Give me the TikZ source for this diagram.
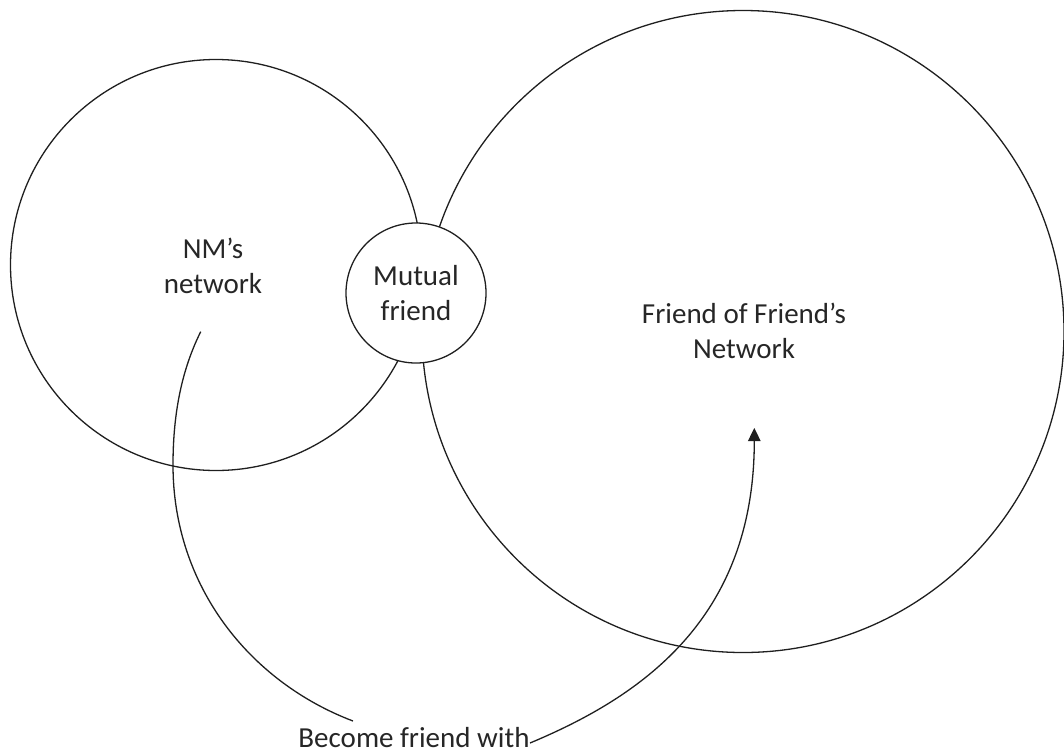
\documentclass[tikz,border=0pt]{standalone}
\usepackage{fontspec}
\setmainfont{Carlito}
\usetikzlibrary{arrows.meta}
\tikzset{
  ring/.style={draw=black!88, line width=1.3pt},
  conn/.style={draw=black!88, line width=1.3pt},
  lbl/.style={inner sep=0pt, align=center, font=\fontsize{29}{35}\selectfont, text=black!85},
}
\begin{document}
\begin{tikzpicture}[x=1pt,y=-1pt]
\useasboundingbox (0,0) rectangle (1064,753);
% big circles
\node[ring, circle, minimum size=411pt, inner sep=0pt] (nm) at (216,265) {};
\node[ring, circle, minimum size=642pt, inner sep=0pt] (ff) at (743,331.5) {};
% labels inside big circles
\node[lbl] (nmt) at (213,266) {NM’s\\network};
\node[lbl] (fft) at (744,330.5) {Friend of Friend’s\\Network};
% connector points
\coordinate (s) at (200.7,331.7);
\coordinate (e1) at (353,721);
\coordinate (e2) at (530,743);
\coordinate (t) at (754.3,428);
\node[lbl, anchor=base] (bf) at (414,747) {Become friend with};
% connectors
\draw[conn] (s) .. controls (180,373.3) and (173,418.6) .. (173,465)
  .. controls (173,585.4) and (249,681.5) .. (e1);
\draw[conn, -{Triangle[length=13pt,width=12.5pt]}] (e2) .. controls (640,697) and (754.3,620) .. (t);
% mutual friend
\node[ring, circle, fill=white, minimum size=140pt, inner sep=0pt, lbl, draw=black!88, line width=1.3pt] (mf) at (416,293) {Mutual\\friend};
\end{tikzpicture}
\end{document}
